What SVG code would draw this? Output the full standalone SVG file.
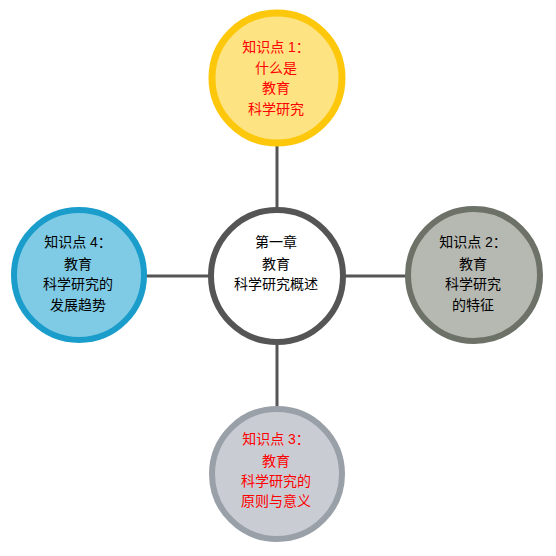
<svg xmlns="http://www.w3.org/2000/svg" width="556" height="556" viewBox="0 0 556 556">
<style>
text{font-family:"Liberation Sans","Noto Sans CJK SC",sans-serif;font-size:14px;text-anchor:middle}
.red{fill:#ff0000}
.blk{fill:#000000}
.conn line{stroke:#555555;stroke-width:3}
</style>
<rect width="556" height="556" fill="#ffffff"/>
<g id="connectors" class="conn">
<line x1="277" y1="145" x2="277" y2="209"/>
<line x1="277" y1="343" x2="277" y2="407"/>
<line x1="146" y1="276" x2="210" y2="276"/>
<line x1="344" y1="276" x2="408" y2="276"/>
</g>
<g id="center">
<circle cx="277" cy="276" r="66" fill="#ffffff" stroke="#555555" stroke-width="6"/>
<text class="blk" x="276" y="247">第一章</text>
<text class="blk" x="276" y="269">教育</text>
<text class="blk" x="276" y="289">科学研究概述</text>
</g>
<g id="node1">
<circle cx="277" cy="78" r="65" fill="#fee382" stroke="#fdc80c" stroke-width="7"/>
<text class="red" x="276" y="52">知识点 1：</text>
<text class="red" x="276" y="73">什么是</text>
<text class="red" x="276" y="93">教育</text>
<text class="red" x="276" y="114">科学研究</text>
</g>
<g id="node2">
<circle cx="474" cy="275" r="66" fill="#b6b9b2" stroke="#6c7267" stroke-width="6"/>
<text class="blk" x="473" y="247">知识点 2：</text>
<text class="blk" x="473" y="269">教育</text>
<text class="blk" x="473" y="289">科学研究</text>
<text class="blk" x="473" y="310">的特征</text>
</g>
<g id="node3">
<circle cx="277" cy="474" r="65" fill="#c9cdd3" stroke="#9aa0a8" stroke-width="6"/>
<text class="red" x="276" y="444">知识点 3：</text>
<text class="red" x="276" y="466">教育</text>
<text class="red" x="276" y="486">科学研究的</text>
<text class="red" x="276" y="506">原则与意义</text>
</g>
<g id="node4">
<circle cx="79" cy="275" r="65" fill="#7fcbe5" stroke="#1a9dcb" stroke-width="6"/>
<text class="blk" x="78" y="247">知识点 4：</text>
<text class="blk" x="78" y="269">教育</text>
<text class="blk" x="78" y="289">科学研究的</text>
<text class="blk" x="78" y="310">发展趋势</text>
</g>
</svg>
